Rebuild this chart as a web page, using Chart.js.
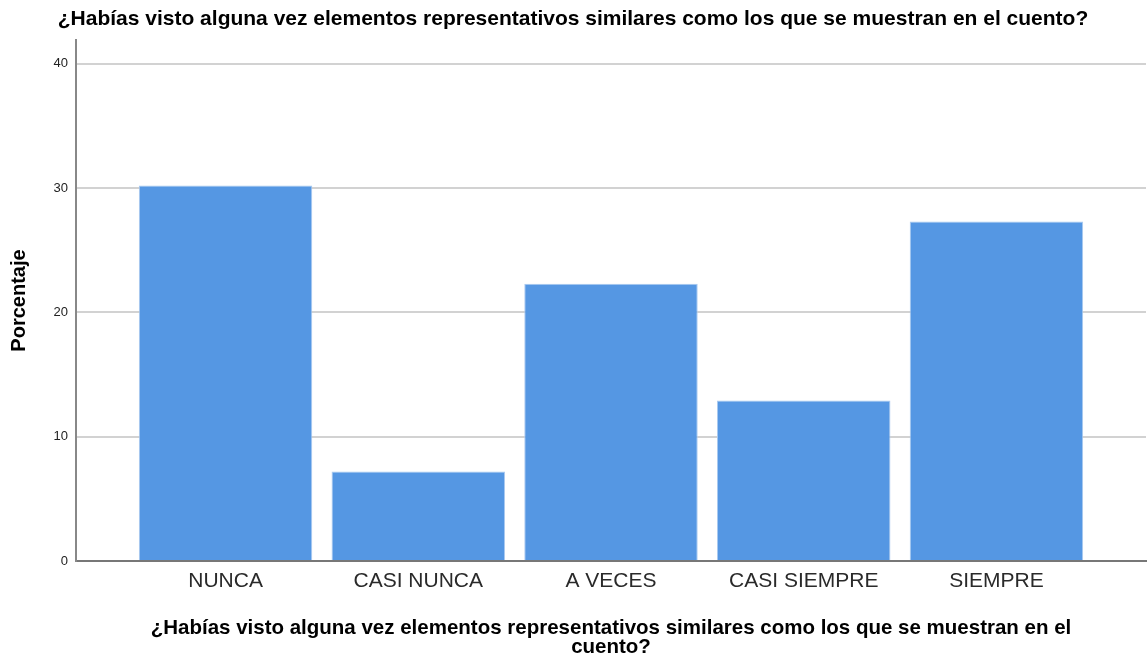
<!DOCTYPE html>
<html>
<head>
<meta charset="utf-8">
<script src="https://cdn.jsdelivr.net/npm/chart.js@4.4.1/dist/chart.umd.min.js"></script>
<style>
  html, body { margin: 0; padding: 0; background: #fff; }
  #wrap { width: 1148px; height: 658px; }
</style>
</head>
<body>
<div id="wrap"><canvas id="barChart"></canvas></div>
<script>
const categories = ["NUNCA", "CASI NUNCA", "A VECES", "CASI SIEMPRE", "SIEMPRE"];
const porcentaje = [30.2, 7.2, 22.3, 12.9, 27.3];
const yTicks = [0, 10, 20, 30, 40];

const chartTitle = "¿Habías visto alguna vez elementos representativos similares como los que se muestran en el cuento?";
const xTitle = ["¿Habías visto alguna vez elementos representativos similares como los que se muestran en el", "cuento?"];

// BAR CHART
const barChart = new Chart(document.getElementById("barChart"), {
    type: "bar",
    data: {
        datasets: [
            {
                label: "Porcentaje",
                data: porcentaje.map((v, i) => ({ x: i, y: v })),
                backgroundColor: "#5597e3",
                borderColor: "#a9c9f0",
                borderWidth: 1,
                categoryPercentage: 1,
                barPercentage: 0.9,
            },
        ],
    },
    options: {
        responsive: true,
        maintainAspectRatio: false,
        animation: false,
        layout: { padding: { left: 0, right: 2, top: 0, bottom: 0 } },
        scales: {
            x: {
                type: "linear",
                offset: false,
                min: -0.776,
                max: categories.length - 1 + 0.776,
                afterBuildTicks: (s) => { s.ticks = categories.map((c, i) => ({ value: i })); },
                afterFit: (s) => { s.height = 97; },
                ticks: {
                    color: "#2a2a2a",
                    font: { family: "Liberation Sans", size: 21 },
                    padding: 8,
                    callback: (v) => categories[v],
                    maxRotation: 0,
                    autoSkip: false,
                },
                grid: { display: false, drawTicks: false },
                border: { color: "#777", width: 2 },
                title: {
                    display: true,
                    text: xTitle,
                    color: "#000",
                    font: { family: "Liberation Sans", size: 20.5, weight: "bold", lineHeight: 0.9 },
                    padding: { top: 0, bottom: 1.5 },
                },
            },
            y: {
                min: 0,
                max: 41.9,
                afterBuildTicks: (s) => { s.ticks = yTicks.map((v) => ({ value: v })); },
                afterFit: (s) => { s.width = 76; },
                ticks: {
                    color: "#222",
                    font: { family: "Liberation Sans", size: 13 },
                    padding: 8,
                },
                grid: { color: "#d2d2d2", lineWidth: 2, drawTicks: false },
                border: { color: "#888", width: 2 },
                title: {
                    display: true,
                    text: "Porcentaje",
                    color: "#000",
                    font: { family: "Liberation Sans", size: 20, weight: "bold", lineHeight: 1.2 },
                    padding: { top: 7, bottom: 0 },
                },
            },
        },
        plugins: {
            legend: { display: false },
            tooltip: { enabled: false },
            title: {
                display: true,
                text: chartTitle,
                color: "#000",
                font: { family: "Liberation Sans", size: 21, weight: "bold", lineHeight: 1.2 },
                padding: { top: 7, bottom: 7.8 },
            },
        },
    },
});
</script>
</body>
</html>
